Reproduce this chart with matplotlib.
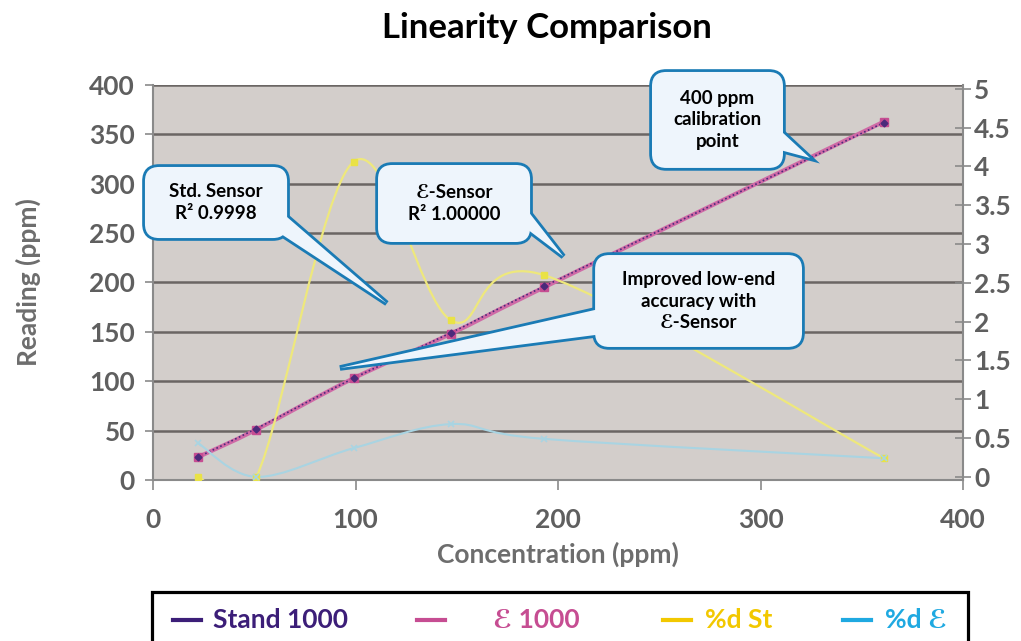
import numpy as np
import matplotlib
matplotlib.use("Agg")
import matplotlib.pyplot as plt
from matplotlib.path import Path
from matplotlib.patches import PathPatch, FancyBboxPatch, Polygon, Rectangle
from matplotlib.lines import Line2D

plt.rcParams['font.family'] = ['Lato', 'DejaVu Sans']
plt.rcParams['font.weight'] = 'bold'

# values
conc = [22, 51, 99, 147, 193, 361]
stand_1000 = [23, 52, 103, 149, 196, 362]
e_1000 = [23, 51, 103, 148, 195, 363]
pct_d_st = [0.0, 0.0, 4.06, 2.02, 2.6, 0.24]
pct_d_e = [0.44, 0.0, 0.37, 0.68, 0.49, 0.24]

series_names = ['Stand 1000', 'ℰ 1000', '%d St', '%d ℰ']
legend_colors = ['#3c1e78', '#c64d92', '#f2c800', '#1fa9e1']

left_ticks = np.arange(0, 401, 50)
right_ticks = np.arange(0, 5.01, 0.5)
x_ticks = np.arange(0, 401, 100)

tick_grey = '#5f5f5f'
spine_grey = '#8a8a8a'
box_fill = '#eef5fc'
box_edge = '#1a7bb5'


def smooth_path(xs, ys):
    # Excel style smoothed line (Catmull-Rom through the points)
    pts = np.column_stack([xs, ys]).astype(float)
    verts = [pts[0]]
    codes = [Path.MOVETO]
    n = len(pts)
    for i in range(n - 1):
        p0 = pts[max(i - 1, 0)]
        p1 = pts[i]
        p2 = pts[i + 1]
        p3 = pts[min(i + 2, n - 1)]
        verts += [p1 + (p2 - p0) / 6, p2 - (p3 - p1) / 6, p2]
        codes += [Path.CURVE4] * 3
    return Path(verts, codes)


fig = plt.figure(figsize=(10.21, 6.41), dpi=100)
ax = fig.add_axes([0.1499, 0.2512, 0.7933, 0.6162])
ax2 = ax.twinx()

ax.set_facecolor('#d3cecb')
ax.set_xlim(0, 400)
ax.set_ylim(0, 400)
ax2.set_ylim(-0.04, 5.05)

ax.set_yticks(left_ticks)
ax.set_xticks(x_ticks)
ax2.set_yticks(right_ticks)
ax2.set_yticklabels(['%g' % t for t in right_ticks])

ax.yaxis.grid(True, color='#6b6664', lw=1.8)
ax.set_axisbelow(True)

for s in ['top', 'right']:
    ax.spines[s].set_visible(False)
for s in ['left', 'bottom']:
    ax.spines[s].set_color(spine_grey)
    ax.spines[s].set_linewidth(1.5)
for s in ['top', 'left', 'bottom']:
    ax2.spines[s].set_visible(False)
ax2.spines['right'].set_color(spine_grey)
ax2.spines['right'].set_linewidth(1.5)

ax.tick_params(axis='y', direction='out', length=6, width=1.2, color=spine_grey,
               labelsize=19, labelcolor=tick_grey, pad=7)
ax.tick_params(axis='x', direction='out', length=7, width=1.2, color=spine_grey,
               labelsize=19, labelcolor=tick_grey, pad=13)
ax2.tick_params(axis='y', direction='inout', length=12, width=1.2, color=spine_grey,
                labelsize=19, labelcolor=tick_grey, pad=2)
for lab in ax.get_xticklabels() + ax.get_yticklabels() + ax2.get_yticklabels():
    lab.set_fontweight('bold')

ax.set_ylabel('Reading (ppm)', fontsize=19, color='#6d6d6d', fontweight='bold')
ax.yaxis.set_label_coords(-0.138, 0.5)
ax.set_xlabel('Concentration (ppm)', fontsize=19, color='#6d6d6d', fontweight='bold')
ax.xaxis.set_label_coords(0.5, -0.155)

# readings (left axis)
ax.add_patch(PathPatch(smooth_path(conc, e_1000), fill=False, ec='#cf6aa6', lw=3, zorder=3))
ax.add_patch(PathPatch(smooth_path(conc, stand_1000), fill=False, ec='#4a2a7a', lw=1.2,
                       ls=(0, (1, 1.5)), zorder=4))
ax.plot(conc, e_1000, ls='none', marker='s', ms=6, color='#c64d92', zorder=5)
ax.plot(conc, stand_1000, ls='none', marker='D', ms=3.5, color='#4a2a7a', zorder=6)

# percent deviations (right axis)
ax2.add_patch(PathPatch(smooth_path(conc, pct_d_st), fill=False, ec='#eee87c', lw=1.6, zorder=3))
ax2.plot(conc, pct_d_st, ls='none', marker='s', ms=5, color='#e9e246', zorder=4)
ax2.add_patch(PathPatch(smooth_path(conc, pct_d_e), fill=False, ec='#a9d4e2', lw=1.5, zorder=3))
ax2.plot(conc, pct_d_e, ls='none', marker='x', ms=5, mew=1.2, color='#a9d4e2', zorder=4)


def callout(box, base1, base2, tip, text):
    x0, y0, x1, y1 = box
    tip = np.array(tip, float)
    b1 = tip + (np.array(base1, float) - tip) * 1.12
    b2 = tip + (np.array(base2, float) - tip) * 1.12
    kw = dict(transform=ax.transData, clip_on=False)
    bx = dict(boxstyle='round,pad=0,rounding_size=7', mutation_aspect=2.05)
    ax2.add_patch(FancyBboxPatch((x0, y0), x1 - x0, y1 - y0, fc=box_fill, ec=box_edge,
                                 lw=4, zorder=10, **bx, **kw))
    ax2.add_patch(Polygon([b1, tip, b2], closed=True, fc=box_fill, ec=box_edge, lw=4,
                          joinstyle='miter', zorder=10, **kw))
    ax2.add_patch(FancyBboxPatch((x0, y0), x1 - x0, y1 - y0, fc=box_fill, ec='none',
                                 lw=0, zorder=11, **bx, **kw))
    ax2.add_patch(Polygon([b1, tip, b2], closed=True, fc=box_fill, ec='none', lw=0,
                          zorder=11, **kw))
    ax2.text((x0 + x1) / 2, (y0 + y1) / 2, text, ha='center', va='center', fontsize=13.5,
             color='black', fontweight='bold', linespacing=1.35, zorder=12,
             transform=ax.transData)


callout((-4, 245, 66.2, 317), (66.0, 266.6), (62.7, 249.8), (115.4, 178.9),
        'Std. Sensor\nR² 0.9998')
callout((111.1, 241, 186.2, 319), (185.3, 271.9), (184.5, 254.4), (202.6, 226.3),
        'ℰ-Sensor\nR² 1.00000')
callout((246.4, 316, 311.1, 413.2), (310.6, 352.4), (309.6, 334.2), (324.4, 326.1),
        '400 ppm\ncalibration\npoint')
callout((218.3, 134.7, 320.5, 227.8), (218.3, 172.2), (218.3, 146.8), (92.3, 113.4),
        'Improved low-end\naccuracy with\nℰ-Sensor')

fig.text(0.536, 0.957, 'Linearity Comparison', ha='center', va='center',
         fontsize=25, color='black', fontweight='bold')

# legend box along the bottom edge
fig.add_artist(Rectangle((0.1489, -0.05), 0.7992, 0.1264, transform=fig.transFigure,
                         fc='white', ec='black', lw=2.3, clip_on=False))
dash_x = [173, 417, 663, 843]
text_x = [213, 493, 705, 885]
leg_y = 0.0328
for name, col, dx, tx in zip(series_names, legend_colors, dash_x, text_x):
    fig.add_artist(Line2D([dx / 1021, (dx + 28) / 1021], [leg_y, leg_y],
                          transform=fig.transFigure, color=col, lw=3))
    fig.text(tx / 1021, leg_y, name, ha='left', va='center', fontsize=19, color=col,
             fontweight='bold')

fig.savefig('out.png', dpi=100)
